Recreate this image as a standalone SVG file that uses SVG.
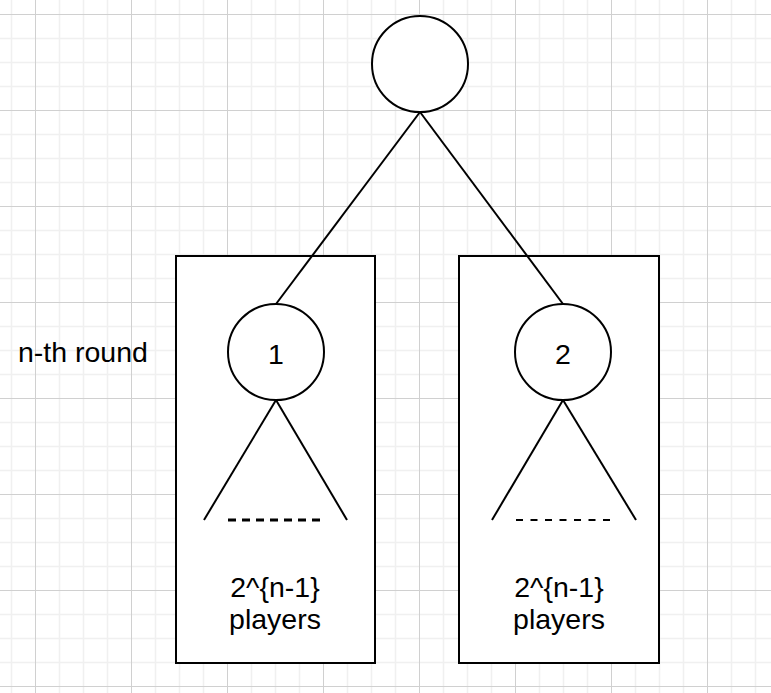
<svg xmlns="http://www.w3.org/2000/svg" width="771" height="693" viewBox="0 0 771 693">
<defs>
<pattern id="grid" width="96" height="96" patternUnits="userSpaceOnUse" x="35" y="14">
<path d="M24.5 0V96M48.5 0V96M72.5 0V96M0 24.5H96M0 48.5H96M0 72.5H96" stroke="#f0f0f0" stroke-width="1.5" fill="none"/>
<path d="M0.5 0V96M0 0.5H96" stroke="#d0d0d0" stroke-width="1" fill="none"/>
</pattern>
<style>
.node{fill:#fff;stroke:#000;stroke-width:2}
.box{fill:#fff;stroke:#000;stroke-width:2}
.edge{stroke:#000;stroke-width:2;fill:none}
.lbl{font-family:"Liberation Sans",Arial,sans-serif;font-size:28.5px;fill:#000}
</style>
</defs>
<rect width="771" height="693" fill="#fff"/>
<rect width="771" height="693" fill="url(#grid)"/>
<g id="box-left"><rect class="box" x="176" y="256" width="199" height="407"/></g>
<g id="box-right"><rect class="box" x="459" y="256" width="200" height="407"/></g>
<g id="connectors">
<line class="edge" x1="420" y1="112" x2="276" y2="304"/>
<line class="edge" x1="420" y1="112" x2="563" y2="304"/>
<line class="edge" x1="276" y1="400" x2="204" y2="520"/>
<line class="edge" x1="276" y1="400" x2="347" y2="520"/>
<line class="edge" x1="563" y1="400" x2="492" y2="520"/>
<line class="edge" x1="563" y1="400" x2="636" y2="520"/>
<line x1="228" y1="520" x2="322" y2="520" stroke="#000" stroke-width="3" stroke-dasharray="8 6"/>
<line x1="516" y1="520" x2="610" y2="520" stroke="#000" stroke-width="2" stroke-dasharray="7 7.5"/>
</g>
<g id="root"><circle class="node" cx="420" cy="64" r="48"/></g>
<g id="node1"><circle class="node" cx="276" cy="352" r="48"/><text class="lbl" x="276" y="364" text-anchor="middle">1</text></g>
<g id="node2"><circle class="node" cx="563" cy="352" r="48"/><text class="lbl" x="563" y="364" text-anchor="middle">2</text></g>
<g id="label-round"><text class="lbl" x="18" y="362">n-th round</text></g>
<g id="label-left"><text class="lbl" x="275" y="597" text-anchor="middle">2^{n-1}</text><text class="lbl" x="275" y="629" text-anchor="middle">players</text></g>
<g id="label-right"><text class="lbl" x="559" y="597" text-anchor="middle">2^{n-1}</text><text class="lbl" x="559" y="629" text-anchor="middle">players</text></g>
</svg>
